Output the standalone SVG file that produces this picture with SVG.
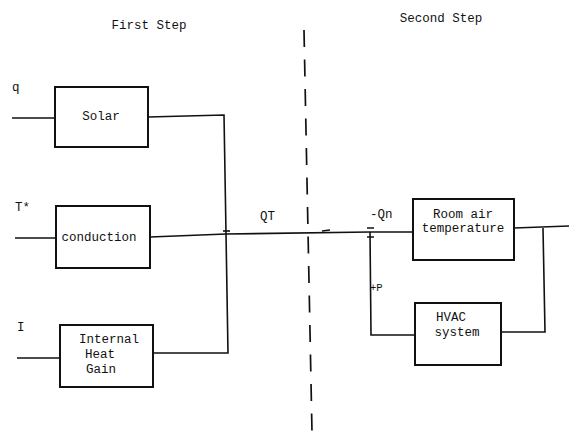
<svg xmlns="http://www.w3.org/2000/svg" width="569" height="432" viewBox="0 0 569 432">
<style>
.box{fill:#fff;stroke:#111;stroke-width:2}
.ln{fill:none;stroke:#111;stroke-width:1.6}
.t{font-family:"Liberation Mono","DejaVu Sans Mono",monospace;font-size:12.5px;fill:#111}
.c{text-anchor:middle}
.dash{fill:none;stroke:#111;stroke-width:1.7;stroke-dasharray:17 12.5}
</style>
<rect width="569" height="432" fill="#fff"/>
<text class="t c" x="149" y="29">First Step</text>
<text class="t c" x="441" y="22">Second Step</text>
<g id="connectors">
<path class="ln" d="M12 118 L55 118"/>
<path class="ln" d="M148 117 L224 115 L226 233"/>
<path class="ln" d="M15 238 L56 238"/>
<path class="ln" d="M150 237 L226 234 L370 232 L413 232"/>
<path class="ln" d="M17 358 L60 358"/>
<path class="ln" d="M153 353 L228 353 L226 233"/>
<path class="ln" d="M514 228 L569 226"/>
<path class="ln" d="M543 228 L545 332 L501 332"/>
<path class="ln" d="M370 232 L371 335 L415 335"/>
<path class="ln" d="M322 231 L330 230"/>
<path class="ln" d="M367 228 L374 228 M367 237 L374 237"/>
<path class="ln" d="M223 231 L230 231"/>
<path class="dash" d="M304 30 L312 432"/>
</g>
<g id="solar"><rect class="box" x="55" y="87" width="93" height="60"/><text class="t c" x="101" y="120">Solar</text></g>
<g id="conduction"><rect class="box" x="56" y="206" width="94" height="62"/><text class="t c" x="99" y="241">conduction</text></g>
<g id="internal"><rect class="box" x="60" y="325" width="93" height="62"/><text class="t c" x="109" y="343">Internal</text><text class="t c" x="100" y="358">Heat</text><text class="t c" x="101" y="373">Gain</text></g>
<g id="room"><rect class="box" x="413" y="199" width="101" height="61"/><text class="t c" x="463" y="218">Room air</text><text class="t c" x="463" y="232">temperature</text></g>
<g id="hvac"><rect class="box" x="415" y="303" width="86" height="62"/><text class="t c" x="451" y="321">HVAC</text><text class="t c" x="457" y="336">system</text></g>
<g id="labels">
<text class="t" x="12" y="91">q</text>
<text class="t" x="15" y="211">T*</text>
<text class="t" x="17" y="331">I</text>
<text class="t" x="260" y="220">QT</text>
<text class="t" x="370" y="218">-Qn</text>
<text class="t" x="370" y="291" style="font-size:10.5px">+P</text>
</g>
</svg>
